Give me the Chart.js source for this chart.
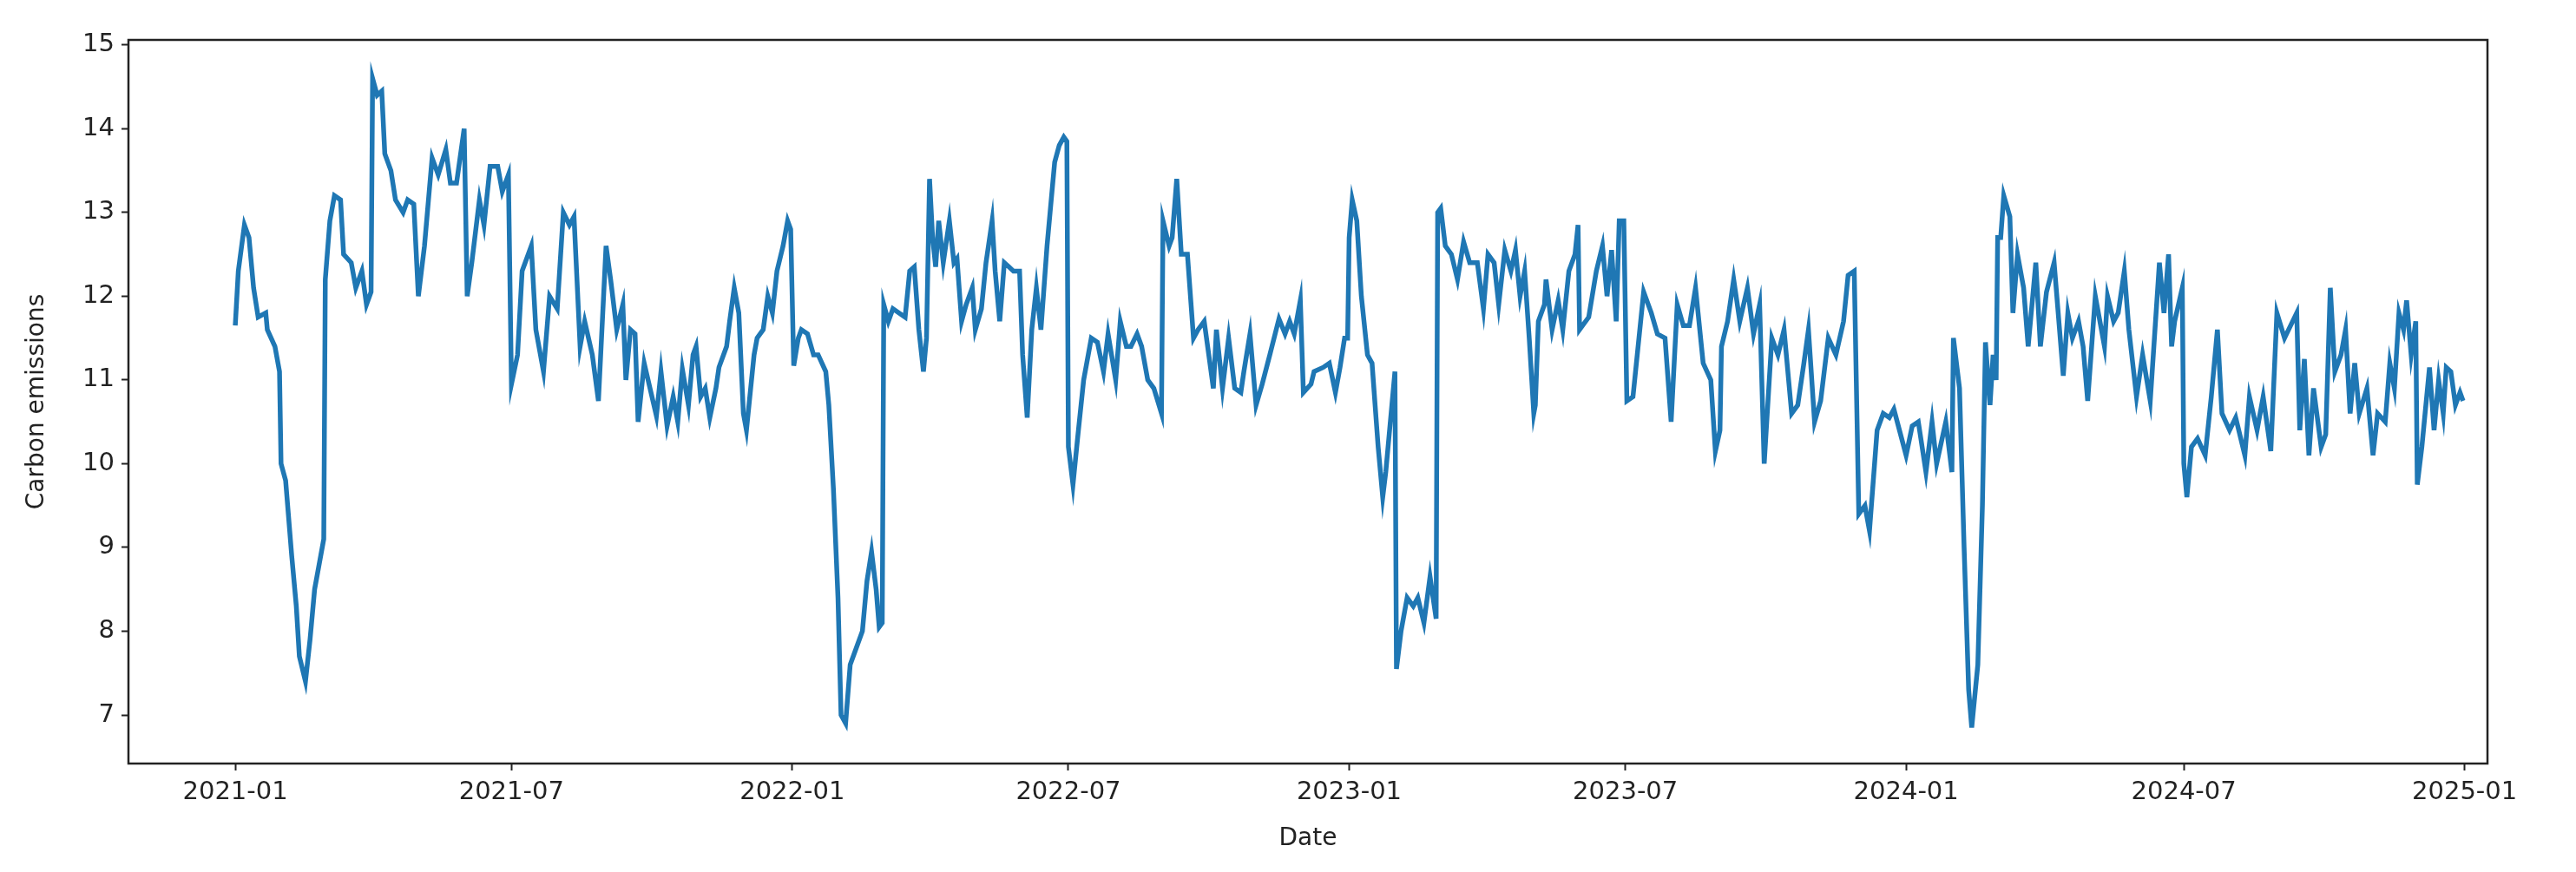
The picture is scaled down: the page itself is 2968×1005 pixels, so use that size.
<!DOCTYPE html>
<html><head><meta charset="utf-8">
<script src="https://cdn.jsdelivr.net/npm/chart.js@4"></script>
<style>html,body{margin:0;padding:0;background:#fff}#w{width:2968px;height:1005px}</style>
</head><body><div id="w"><canvas id="c"></canvas></div>
<script>
// day-of-year and values per year
const days2021=[0,2,6,9,12,15,20,21,26,29,30,33,37,40,42,46,49,52,58,59,62,65,69,71,76,79,83,86,89,90,93,96,98,102,105,110,113,117,120,124,129,133,138,141,145,150,152,155,160,163,167,172,175,179,181,185,188,194,197,202,206,211,215,219,222,226,229,234,238,243,246,250,254,256,259,262,264,268,276,279,283,287,290,293,297,300,302,305,308,311,315,317,322,324,327,330,333,335,340,342,346,349,352,355,359,362,364];
const vals2021=[11.65,12.3,12.85,12.7,12.1,11.75,11.8,11.6,11.4,11.1,10.0,9.8,8.9,8.3,7.7,7.4,7.9,8.5,9.1,12.2,12.9,13.2,13.15,12.5,12.4,12.1,12.3,11.9,12.05,14.6,14.4,14.45,13.7,13.5,13.15,13.0,13.15,13.1,12.0,12.6,13.65,13.45,13.75,13.35,13.35,14.0,12.0,12.4,13.15,12.85,13.55,13.55,13.25,13.45,10.95,11.3,12.3,12.6,11.6,11.1,12.0,11.85,13.0,12.85,12.95,11.4,11.7,11.3,10.75,12.6,12.2,11.6,11.9,11.0,11.6,11.55,10.5,11.2,10.57,11.1,10.45,10.8,10.5,11.13,10.7,11.3,11.4,10.8,10.9,10.55,10.9,11.15,11.4,11.7,12.1,11.8,10.6,10.4,11.3,11.5,11.6,12.0,11.8,12.3,12.6,12.9,12.8];
const days2022=[1,4,6,10,14,17,22,24,27,30,32,35,38,42,46,49,52,55,57,59,60,63,66,70,74,77,80,83,86,88,90,92,94,96,99,103,106,108,111,114,118,120,124,127,131,133,136,139,142,145,149,151,154,157,160,163,167,169,172,175,178,180,181,184,187,191,196,200,204,207,212,215,219,222,226,229,233,237,242,243,247,249,252,255,259,263,266,270,273,276,278,282,286,290,294,296,300,304,308,313,319,323,326,329,333,335,340,342,348,352,356,359,362,364];
const vals2022=[11.17,11.5,11.6,11.55,11.3,11.3,11.1,10.7,9.7,8.4,7.0,6.9,7.6,7.8,8.0,8.6,8.95,8.5,8.05,8.1,11.9,11.7,11.85,11.8,11.75,12.3,12.35,11.6,11.1,11.5,13.4,12.7,12.35,12.9,12.4,12.9,12.4,12.45,11.7,11.9,12.1,11.6,11.85,12.4,12.9,12.3,11.7,12.4,12.35,12.3,12.3,11.3,10.55,11.6,12.1,11.6,12.6,13.0,13.6,13.8,13.9,13.85,10.2,9.75,10.3,11.0,11.5,11.45,11.1,11.55,11.0,11.7,11.4,11.4,11.55,11.4,11.0,10.9,10.6,12.9,12.6,12.7,13.4,12.5,12.5,11.5,11.6,11.7,11.3,10.9,11.6,10.9,11.5,10.9,10.85,11.1,11.55,10.7,10.95,11.3,11.73,11.55,11.7,11.55,11.95,10.85,10.95,11.1,11.15,11.2,10.85,11.15,11.5,11.5];
const days2023=[0,2,5,8,12,15,19,22,24,28,30,31,34,38,42,45,49,53,57,58,60,63,67,71,75,79,84,88,91,95,98,102,106,109,112,115,118,121,122,124,128,129,133,137,140,144,148,150,151,157,162,166,169,172,175,177,180,182,186,193,198,202,207,211,215,219,223,227,232,237,240,243,244,248,252,256,261,265,269,272,277,281,285,290,294,298,301,305,309,314,319,324,327,331,334,338,341,346,350,354,357];
const vals2023=[12.7,13.15,12.9,12.0,11.3,11.2,10.2,9.6,9.9,10.7,11.1,7.55,8.0,8.4,8.3,8.4,8.1,8.65,8.15,13.0,13.05,12.6,12.5,12.2,12.65,12.4,12.4,11.85,12.5,12.4,11.9,12.55,12.3,12.55,12.0,12.3,11.5,10.6,10.7,11.7,11.9,12.2,11.6,11.95,11.6,12.3,12.5,12.85,11.6,11.75,12.3,12.6,12.0,12.55,11.7,12.9,12.9,10.75,10.8,12.05,11.8,11.55,11.5,10.5,11.9,11.65,11.65,12.1,11.2,11.0,10.15,10.4,11.4,11.7,12.2,11.7,12.1,11.55,11.9,10.0,11.5,11.3,11.6,10.6,10.7,11.2,11.6,10.5,10.75,11.5,11.3,11.7,12.25,12.3,9.4,9.5,9.2,10.4,10.6,10.55,10.65];
const days2024=[0,4,8,13,17,20,26,30,31,35,38,41,43,47,50,52,55,57,59,60,62,64,68,70,73,77,80,85,88,92,97,103,106,109,113,116,119,124,130,132,136,139,143,146,151,155,160,166,169,172,174,176,181,182,184,187,191,196,200,204,207,212,216,222,225,230,234,239,243,248,252,256,258,261,264,267,272,275,278,281,285,288,291,294,297,302,306,309,314,317,320,323,326,328,331,334,335,338,343,346,349,352,354,357,360,363,365];
const vals2024=[10.1,10.45,10.5,9.9,10.5,10.0,10.5,9.9,11.5,10.9,9.0,7.3,6.85,7.6,9.5,11.45,10.7,11.3,11.0,12.7,12.7,13.2,12.95,11.8,12.5,12.1,11.4,12.4,11.4,12.05,12.4,11.05,11.8,11.5,11.7,11.4,10.75,12.0,11.4,12.0,11.7,11.8,12.3,11.6,10.8,11.3,10.75,12.4,11.8,12.5,11.4,11.7,12.1,10.0,9.6,10.2,10.3,10.1,10.8,11.6,10.6,10.4,10.55,10.1,10.8,10.4,10.8,10.15,11.8,11.5,11.65,11.8,10.4,11.25,10.1,10.9,10.2,10.35,12.1,11.1,11.3,11.6,10.6,11.2,10.6,10.9,10.1,10.6,10.5,11.2,10.9,11.8,11.6,11.95,11.3,11.7,9.75,10.2,11.15,10.4,11.0,10.6,11.15,11.1,10.7,10.85,10.75];
const yearStarts=[0,365,730,1095];
const tickDays=[0,181,365,546,730,911,1095,1277,1461];
const tickLabels=['2021-01','2021-07','2022-01','2022-07','2023-01','2023-07','2024-01','2024-07','2025-01'];
const yTicks=[7,8,9,10,11,12,13,14,15];

const pts=[];
[[days2021,vals2021],[days2022,vals2022],[days2023,vals2023],[days2024,vals2024]].forEach(([d,v],i)=>{
  d.forEach((dd,j)=>pts.push({x:yearStarts[i]+dd,y:v[j]}));
});
const frame={id:'frame',afterDraw(c){const a=c.chartArea,g=c.ctx;g.save();g.strokeStyle='#222';g.lineWidth=2.5;g.strokeRect(a.left,a.top,a.right-a.left,a.bottom-a.top);g.restore();}};
const F='DejaVu Sans';
new Chart(document.getElementById('c'),{
  type:'line',
  data:{datasets:[{data:pts,borderColor:'#1f77b4',borderWidth:5.5,pointRadius:0,tension:0,fill:false}]},
  options:{
    responsive:true,maintainAspectRatio:false,animation:false,devicePixelRatio:1,
    layout:{padding:{top:46,right:102,left:22,bottom:17}},
    plugins:{legend:{display:false},tooltip:{enabled:false}},
    scales:{
      x:{type:'linear',min:-70,max:1476,
        afterBuildTicks(s){s.ticks=tickDays.map(v=>({value:v}));},
        afterFit(s){s.height=108;},
        ticks:{autoSkip:false,maxRotation:0,color:'#222',font:{family:F,size:29},padding:8,callback:(v)=>tickLabels[tickDays.indexOf(v)]},
        grid:{drawOnChartArea:false,drawTicks:true,tickLength:8,tickColor:'#222',tickWidth:2},
        border:{display:false},
        title:{display:true,text:'Date',color:'#222',font:{family:F,size:28},padding:{top:2}}},
      y:{min:6.42,max:15.06,
        afterBuildTicks(s){s.ticks=yTicks.map(v=>({value:v}));},
        afterFit(s){s.width=126;},
        ticks:{color:'#222',font:{family:F,size:29},padding:8},
        grid:{drawOnChartArea:false,drawTicks:true,tickLength:8,tickColor:'#222',tickWidth:2},
        border:{display:false},
        title:{display:true,text:'Carbon emissions',color:'#222',font:{family:F,size:28},padding:{bottom:6}}}
    }
  },
  plugins:[frame]
});
</script></body></html>
